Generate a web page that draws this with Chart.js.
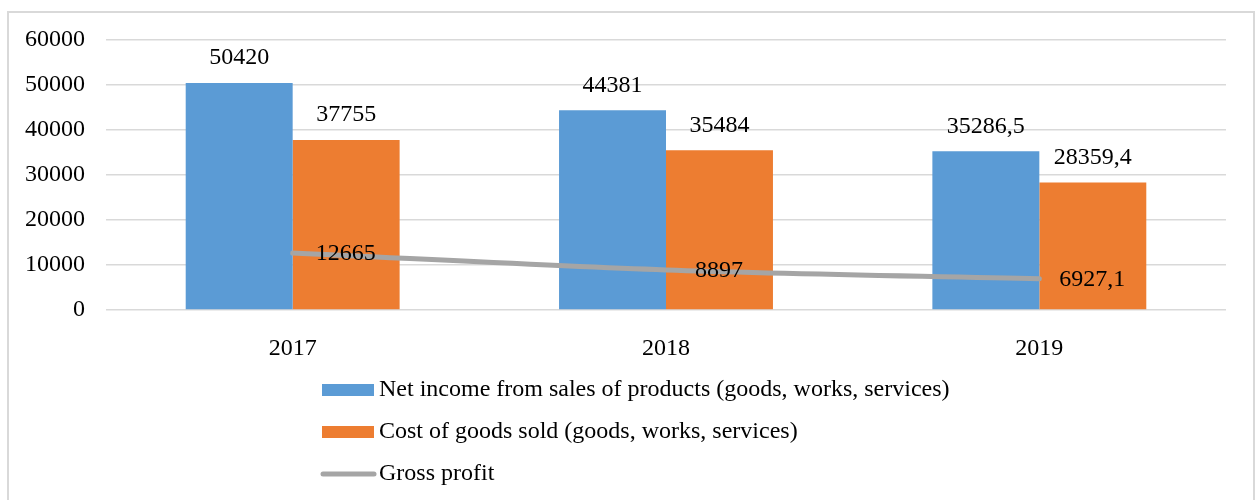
<!DOCTYPE html>
<html lang="en">
<head>
  <meta charset="UTF-8">
  <title>Gross profit</title>
  <script src="https://cdn.jsdelivr.net/npm/chart.js"></script>
  <style>
    html, body { margin: 0; padding: 0; background: #fff; }
    #wrap { position: relative; width: 1259px; height: 500px; }
  </style>
</head>
<body>
  <div id="wrap"><canvas id="chart"></canvas></div>

  <script>
    const years = ['2017', '2018', '2019'];
    const netIncome = [50420, 44381, 35286.5];
    const costOfGoods = [37755, 35484, 28359.4];
    const grossProfit = [12665, 8897, 6927.1];
    const seriesNames = [
      'Net income from sales of products (goods, works, services)',
      'Cost of goods sold (goods, works, services)',
      'Gross profit'
    ];

    const FONT = '24px "Liberation Serif", "Times New Roman", serif';
    const fmt = v => String(v).replace('.', ',');

    // frame around the whole chart
    const framePlugin = {
      id: 'frame',
      beforeDraw(chart) {
        const c = chart.ctx;
        c.save();
        c.strokeStyle = '#D9D9D9';
        c.lineWidth = 2;
        c.strokeRect(8, 12, 1246, 520);
        c.restore();
      }
    };

    // value labels (no datalabels plugin available)
    const labelsPlugin = {
      id: 'valueLabels',
      afterDatasetsDraw(chart) {
        const c = chart.ctx;
        c.save();
        c.font = FONT;
        c.fillStyle = '#000';
        c.textAlign = 'center';
        c.textBaseline = 'middle';
        chart.data.datasets.forEach((ds, i) => {
          const meta = chart.getDatasetMeta(i);
          meta.data.forEach((el, j) => {
            const txt = fmt(ds.data[j]);
            if (ds.type === 'line') {
              c.fillText(txt, el.x + 53, el.y + 1);
            } else {
              c.fillText(txt, el.x, el.y - 25);
            }
          });
        });
        c.restore();
      }
    };

    // vertical legend under the plot
    const legendPlugin = {
      id: 'stackLegend',
      afterDraw(chart) {
        const c = chart.ctx;
        const rows = [390, 432, 474];
        c.save();
        c.font = FONT;
        c.textBaseline = 'middle';
        c.textAlign = 'left';
        chart.data.datasets.forEach((ds, i) => {
          const y = rows[i];
          if (ds.type === 'line') {
            c.strokeStyle = ds.borderColor;
            c.lineWidth = 5;
            c.lineCap = 'round';
            c.beginPath();
            c.moveTo(323, y);
            c.lineTo(374, y);
            c.stroke();
          } else {
            c.fillStyle = ds.backgroundColor;
            c.fillRect(322, y - 6, 52, 12);
          }
          c.fillStyle = '#000';
          c.fillText(ds.label, 379, y);
        });
        c.restore();
      }
    };

    const ctx = document.getElementById('chart').getContext('2d');
    new Chart(ctx, {
      data: {
        labels: years,
        datasets: [
          {
            type: 'bar',
            label: seriesNames[0],
            data: netIncome,
            backgroundColor: '#5B9BD5',
            order: 1
          },
          {
            type: 'bar',
            label: seriesNames[1],
            data: costOfGoods,
            backgroundColor: '#ED7D31',
            order: 1
          },
          {
            type: 'line',
            label: seriesNames[2],
            data: grossProfit,
            borderColor: '#A5A5A5',
            borderWidth: 5,
            borderCapStyle: 'round',
            pointRadius: 0,
            tension: 0.3,
            order: 0
          }
        ]
      },
      options: {
        responsive: true,
        maintainAspectRatio: false,
        animation: false,
        datasets: {
          bar: { categoryPercentage: 0.573, barPercentage: 1.0 }
        },
        layout: { padding: { left: 0, top: 40, right: 33, bottom: 0 } },
        plugins: {
          legend: { display: false },
          tooltip: { enabled: false }
        },
        scales: {
          x: {
            grid: { display: false },
            border: { display: false },
            ticks: { color: '#000', font: { family: '"Liberation Serif", serif', size: 24 }, padding: 16 },
            afterFit(scale) { scale.height = 190; }
          },
          y: {
            min: 0,
            max: 60000,
            ticks: {
              stepSize: 10000,
              color: '#000',
              font: { family: '"Liberation Serif", serif', size: 24 },
              padding: 21,
              callback: v => String(v)
            },
            grid: { color: '#D9D9D9', lineWidth: 1.5, drawTicks: false },
            border: { display: false },
            afterFit(scale) { scale.width = 106; }
          }
        }
      },
      plugins: [framePlugin, labelsPlugin, legendPlugin]
    });
  </script>
</body>
</html>
